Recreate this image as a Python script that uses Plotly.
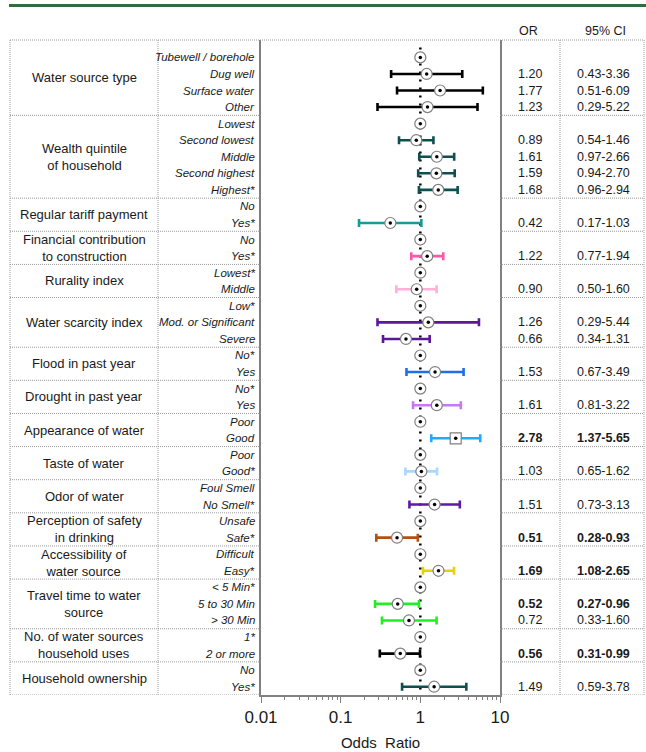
import plotly.graph_objects as go

# ---- data -------------------------------------------------------------
group_names = [
    "Water source type", "Wealth quintile<br>of household", "Regular tariff payment",
    "Financial contribution<br>to construction", "Rurality index", "Water scarcity index",
    "Flood in past year", "Drought in past year", "Appearance of water", "Taste of water",
    "Odor of water", "Perception of safety<br>in drinking", "Accessibility of<br>water source",
    "Travel time to water<br>source", "No. of water sources<br>household uses", "Household ownership",
]

group_levels = [
    ["Tubewell / borehole", "Dug well", "Surface water", "Other"],
    ["Lowest", "Second lowest", "Middle", "Second highest", "Highest*"],
    ["No", "Yes*"],
    ["No", "Yes*"],
    ["Lowest*", "Middle"],
    ["Low*", "Mod. or Significant", "Severe"],
    ["No*", "Yes"],
    ["No*", "Yes"],
    ["Poor", "Good"],
    ["Poor", "Good*"],
    ["Foul Smell", "No Smell*"],
    ["Unsafe", "Safe*"],
    ["Difficult", "Easy*"],
    ["< 5 Min*", "5 to 30 Min", "> 30 Min"],
    ["1*", "2 or more"],
    ["No", "Yes*"],
]

# None marks the reference category (OR = 1)
odds_ratio = [
    [None, 1.20, 1.77, 1.23],
    [None, 0.89, 1.61, 1.59, 1.68],
    [None, 0.42],
    [None, 1.22],
    [None, 0.90],
    [None, 1.26, 0.66],
    [None, 1.53],
    [None, 1.61],
    [None, 2.78],
    [None, 1.03],
    [None, 1.51],
    [None, 0.51],
    [None, 1.69],
    [None, 0.52, 0.72],
    [None, 0.56],
    [None, 1.49],
]

ci_low = [
    [None, 0.43, 0.51, 0.29],
    [None, 0.54, 0.97, 0.94, 0.96],
    [None, 0.17],
    [None, 0.77],
    [None, 0.50],
    [None, 0.29, 0.34],
    [None, 0.67],
    [None, 0.81],
    [None, 1.37],
    [None, 0.65],
    [None, 0.73],
    [None, 0.28],
    [None, 1.08],
    [None, 0.27, 0.33],
    [None, 0.31],
    [None, 0.59],
]

ci_high = [
    [None, 3.36, 6.09, 5.22],
    [None, 1.46, 2.66, 2.70, 2.94],
    [None, 1.03],
    [None, 1.94],
    [None, 1.60],
    [None, 5.44, 1.31],
    [None, 3.49],
    [None, 3.22],
    [None, 5.65],
    [None, 1.62],
    [None, 3.13],
    [None, 0.93],
    [None, 2.65],
    [None, 0.96, 1.60],
    [None, 0.99],
    [None, 3.78],
]

significant = [
    [False] * 4, [False] * 5, [False] * 2, [False] * 2, [False] * 2, [False] * 3,
    [False] * 2, [False] * 2, [False, True], [False] * 2, [False] * 2,
    [False, True], [False, True], [False, True, False], [False, True], [False] * 2,
]

group_colors = [
    "#000000", "#0f4f4f", "#169b98", "#ff55aa", "#ffb0d8", "#5a189a",
    "#1f6fe5", "#c877f7", "#1eaaff", "#a8d8ff", "#5e1aa6", "#b3500f",
    "#e6d400", "#22ee22", "#000000", "#0f4f4f",
]

square_marker = ("Appearance of water", "Good")

tick_values = [0.01, 0.1, 1, 10]
tick_labels = ["0.01", "0.1", "1", "10"]

# ---- geometry ---------------------------------------------------------
W, H = 646, 752
PLOT_L, PLOT_R, PLOT_T, PLOT_B = 261, 500, 40, 695
TABLE_L, NAME_SEP, CI_SEP, TABLE_R = 10, 158, 560, 644
OR_X, CI_X, GROUP_X, LEVEL_X = 530, 603, 84, 257
ROW_TOP = -1.05


def fx(px):
    return px / W


def fy(py):
    return 1 - py / H


n_rows = sum(len(l) for l in group_levels)
ROW_BOTTOM = n_rows - 0.5

FONT = "Liberation Sans, Arial, sans-serif"
NARROW = "Liberation Sans Narrow, Arial Narrow, Liberation Sans, Arial, sans-serif"
BORDER = dict(color="#9a9a9a", width=1, dash="1px,1px")
TXT = "#1a1a1a"

fig = go.Figure()
shapes = []
annotations = []

marker_x, marker_y, marker_sym = [], [], []
row = 0
for g, name in enumerate(group_names):
    start = row
    for k, lvl in enumerate(group_levels[g]):
        orv = odds_ratio[g][k]
        annotations.append(dict(
            x=fx(LEVEL_X), xref="paper", y=row, yref="y", text=lvl,
            xanchor="right", yanchor="middle", showarrow=False,
            font=dict(family=NARROW, size=11.5, color=TXT, style="italic"),
        ))
        if orv is not None:
            fig.add_trace(go.Scatter(
                x=[orv], y=[row], mode="markers",
                marker=dict(size=1, color="rgba(0,0,0,0)"),
                error_x=dict(type="data", symmetric=False,
                             array=[ci_high[g][k] - orv],
                             arrayminus=[orv - ci_low[g][k]],
                             color=group_colors[g], thickness=2.6, width=4),
                hoverinfo="skip", showlegend=False,
            ))
            b0, b1 = ("<b>", "</b>") if significant[g][k] else ("", "")
            annotations.append(dict(
                x=fx(OR_X), xref="paper", y=row, yref="y",
                xanchor="center", yanchor="middle",
                text=f"{b0}{orv:.2f}{b1}", showarrow=False,
                font=dict(family=FONT, size=12.5, color=TXT),
            ))
            annotations.append(dict(
                x=fx(CI_X), xref="paper", y=row, yref="y",
                xanchor="center", yanchor="middle",
                text=f"{b0}{ci_low[g][k]:.2f}-{ci_high[g][k]:.2f}{b1}", showarrow=False,
                font=dict(family=FONT, size=12.5, color=TXT),
            ))
        marker_x.append(1 if orv is None else orv)
        marker_y.append(row)
        marker_sym.append("square" if (name, lvl) == square_marker else "circle")
        row += 1
    end = row - 1
    top = ROW_TOP if g == 0 else start - 0.5
    annotations.append(dict(
        x=fx(GROUP_X), xref="paper", y=(top + end + 0.5) / 2, yref="y",
        xanchor="center", yanchor="middle",
        text=name, showarrow=False, align="center",
        font=dict(family=FONT, size=13, color=TXT),
    ))
    # dotted separator below each group (label columns and value columns)
    for x0, x1 in ((TABLE_L, PLOT_L), (PLOT_R, TABLE_R)):
        shapes.append(dict(type="line", xref="paper", yref="y",
                           x0=fx(x0), x1=fx(x1), y0=end + 0.5, y1=end + 0.5, line=BORDER))

# point estimates: white circle with a black centre dot
fig.add_trace(go.Scatter(
    x=marker_x, y=marker_y, mode="markers",
    marker=dict(size=11, symbol=marker_sym, color="white",
                line=dict(color="#808080", width=1.2)),
    hoverinfo="skip", showlegend=False,
))
fig.add_trace(go.Scatter(
    x=marker_x, y=marker_y, mode="markers",
    marker=dict(size=3.5, color="black"),
    hoverinfo="skip", showlegend=False,
))

# top border across the whole table
shapes.append(dict(type="line", xref="paper", yref="paper",
                   x0=fx(TABLE_L), x1=fx(TABLE_R), y0=fy(PLOT_T), y1=fy(PLOT_T), line=BORDER))
# vertical dotted column rules
for xv in (TABLE_L, NAME_SEP, CI_SEP, TABLE_R):
    shapes.append(dict(type="line", xref="paper", yref="paper",
                       x0=fx(xv), x1=fx(xv), y0=fy(PLOT_T), y1=fy(PLOT_B), line=BORDER))
# null-effect line at OR = 1
shapes.append(dict(type="line", xref="x", yref="y", x0=1, x1=1, y0=-0.6, y1=ROW_BOTTOM,
                   layer="below", line=dict(color="black", width=2.5, dash="2px,6px")))
# green rule at the top of the figure
shapes.append(dict(type="line", xref="paper", yref="paper",
                   x0=fx(9), x1=1, y0=fy(5.5), y1=fy(5.5),
                   line=dict(color="#2d6e41", width=3)))

# column headers
for xh, txt in ((OR_X - 2, "OR"), (CI_X + 2, "95% CI")):
    annotations.append(dict(x=fx(xh), xref="paper", y=fy(31), yref="paper", text=txt,
                            xanchor="center", yanchor="middle",
                            showarrow=False, font=dict(family=FONT, size=12.5, color=TXT)))

minor_vals = [m * d for d in (0.01, 0.1, 1) for m in range(2, 10)]

fig.update_layout(
    width=W, height=H,
    margin=dict(l=0, r=0, t=0, b=0),
    paper_bgcolor="white", plot_bgcolor="white",
    shapes=shapes, annotations=annotations,
    xaxis=dict(
        type="log", range=[-2, 1], domain=[fx(PLOT_L), fx(PLOT_R)],
        showgrid=False, zeroline=False, automargin=False,
        showline=True, linecolor="#808080", linewidth=1.5,
        tickmode="array", tickvals=tick_values, ticktext=tick_labels,
        ticks="outside", ticklen=6, tickwidth=1.2, tickcolor="#808080",
        minor=dict(tickmode="array", tickvals=minor_vals, ticks="outside",
                   ticklen=3.5, tickwidth=1, tickcolor="#808080", showgrid=False),
        tickfont=dict(family=FONT, size=17, color=TXT),
        title=dict(text="Odds\u00a0\u00a0Ratio", standoff=11,
                   font=dict(family=FONT, size=15, color=TXT)),
    ),
    yaxis=dict(
        range=[ROW_BOTTOM, ROW_TOP], domain=[fy(PLOT_B), fy(PLOT_T)],
        showgrid=False, zeroline=False, showticklabels=False, ticks="",
        automargin=False,
        showline=True, mirror=True, linecolor="#808080", linewidth=1.5,
    ),
)

fig.write_html("out.html")
